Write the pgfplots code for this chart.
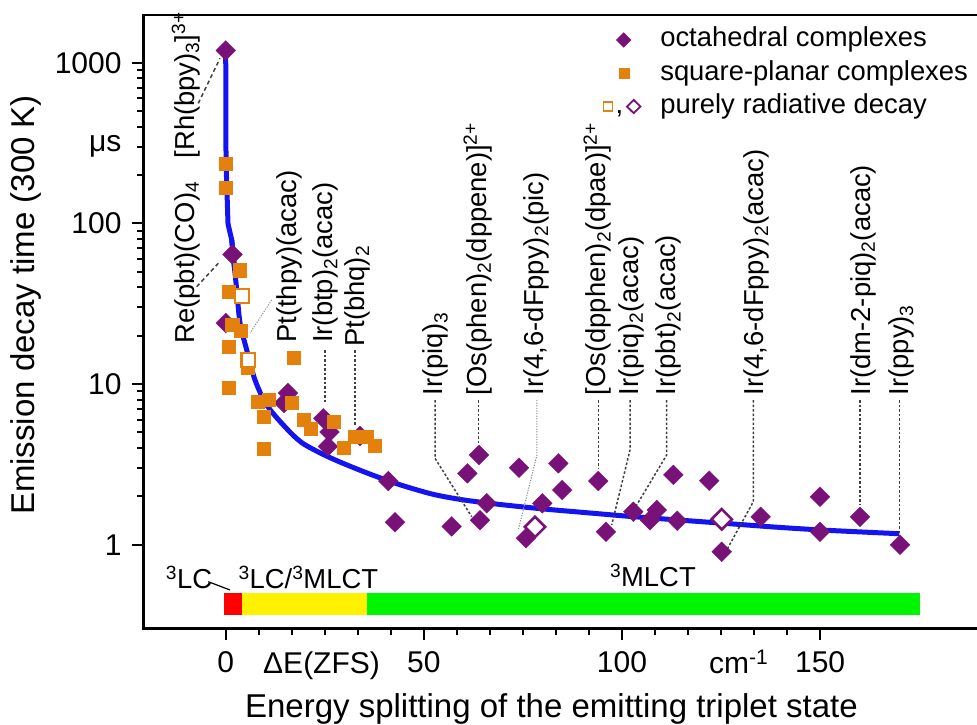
\documentclass[border=0pt]{standalone}
\usepackage{pgfplots}
\pgfplotsset{compat=1.18}
\usepackage{fontspec}
\setmainfont{Liberation Sans}
\definecolor{purp}{RGB}{120,18,120}
\definecolor{orng}{RGB}{228,128,12}
\definecolor{cblue}{RGB}{20,20,240}
\newcommand{\fT}{\fontsize{30}{30}\selectfont}
\newcommand{\fL}{\fontsize{33}{33}\selectfont}
\newcommand{\fC}{\fontsize{27.4}{27.4}\selectfont}
\tikzset{conn/.style={black!75, line width=1.5pt, dash pattern=on 2.5pt off 2pt},
         connthin/.style={black!45, line width=1pt, dash pattern=on 1.2pt off 1.4pt},
         connlong/.style={black!75, line width=1.5pt, dash pattern=on 4pt off 3pt},
         lab/.style={rotate=90, anchor=base west, inner sep=0pt, font=\fC}}
\begin{document}
\begin{tikzpicture}
\begin{axis}[
  at={(143.3pt,95.3pt)}, anchor=south west,
  scale only axis, width=843.3pt, height=613.7pt,
  xmin=-20.8, xmax=192,
  ymode=log, ymin=0.3, ymax=1981,
  axis line style={line width=2.5pt},
  tick align=outside, tick pos=left,
  major tick length=11pt, minor tick length=6pt,
  tick style={black, line width=2pt},
  xtick={0,50,100,150}, xticklabels={0,50,100,150},
  minor x tick num=5,
  ytick={1,10,100,1000}, yticklabels={1,10,100,1000},
  ticklabel style={font=\fT, inner sep=0pt},
  xticklabel shift=12pt, yticklabel shift=10.6pt,
  xlabel={Energy splitting of the emitting triplet state},
  ylabel={Emission decay time (300 K)},
  every axis x label/.style={at={(axis description cs:0.484,-0.1455)}, anchor=base, font=\fL},
  every axis y label/.style={at={(axis description cs:-0.139,0.5275)}, anchor=center, rotate=90, font=\fL},
  legend cell align=left,
  legend style={at={(axis description cs:0.5392,0.9809)}, anchor=north west,
    draw=none, fill=none, inner sep=0pt, outer sep=0pt,
    nodes={inner sep=0pt, text height=20pt, text depth=6.5pt},
    column sep=18.3pt, row sep=6.8pt, font=\fC},
]
% state bar
\addplot[fill=red, draw=none, forget plot] coordinates {(-0.5,0.3635) (4.2,0.3635) (4.2,0.5027) (-0.5,0.5027)} -- cycle;
\addplot[fill=yellow, draw=none, forget plot] coordinates {(4.2,0.3635) (35.6,0.3635) (35.6,0.5027) (4.2,0.5027)} -- cycle;
\addplot[fill={rgb,255:red,0;green,245;blue,0}, draw=none, forget plot] coordinates {(35.6,0.3635) (175.2,0.3635) (175.2,0.5027) (35.6,0.5027)} -- cycle;
% fit curve
\addplot[cblue, line width=5pt, line join=round, forget plot] coordinates {
(0,1190) (0.02,600) (0.08,237) (0.58,99) (1.51,79) (2.27,51)};
\addplot[cblue, line width=5pt, line join=round, smooth, tension=0.5, forget plot] coordinates {
(1.51,79) (2.27,51) (2.78,38.5) (3.61,24)
(5.3,16.3) (7.39,10.6) (10.35,7.4) (15,5.4) (19,4.35) (23.6,3.75) (28.7,3.28)
(36.4,2.75) (44,2.36) (52.3,2.06) (60,1.9) (69.2,1.78) (80,1.67)
(90,1.59) (102,1.50) (115,1.42) (129,1.34) (140,1.28) (151.5,1.23) (170,1.17)};
% octahedral complexes
\addplot[only marks, mark=square*, mark size=7pt, mark options={rotate=45, fill=purp, draw=purp, line width=0.3pt}, forget plot] coordinates {
(0,1190) (1.72,64.0) (0,24.0) (15.72,8.80) (14.7,7.62) (24.63,6.12) (26.2,5.03)
(25.8,4.09) (33.9,4.75) (41.03,2.49) (42.7,1.38) (57.03,1.30) (60.96,2.78)
(63.92,3.62) (65.86,1.81) (64.17,1.42) (74.0,3.01) (83.93,3.21) (84.94,2.19)
(79.89,1.81) (75.78,1.096) (94.02,2.49) (102.85,1.605) (95.96,1.205)
(108.76,1.644) (107.07,1.42) (113.95,1.41) (112.95,2.72) (122.03,2.50)
(125.16,0.905) (135.0,1.49) (149.96,1.99) (149.96,1.205) (160.05,1.49) (170.14,1.0)};
% square-planar complexes
\addplot[only marks, mark=square*, mark size=6.6pt, mark options={fill=orng, draw=orng, line width=0.3pt}, forget plot] coordinates {
(0,234) (0,166) (3.6,51.2) (0.66,37.4) (1.6,23.3) (3.86,21.4) (0.66,17.0)
(17.06,14.6) (5.63,12.6) (0.66,9.5) (8.02,7.76) (10.93,7.95) (16.65,7.62)
(9.66,6.23) (9.66,3.94) (19.58,5.97) (21.52,5.30) (27.33,5.83) (29.67,4.04)
(32.63,4.71) (35.58,4.71) (37.67,4.12)};
% purely radiative decay
\addplot[only marks, mark=square*, mark size=6.9pt, mark options={fill=white, draw=orng, line width=2.4pt}, forget plot] coordinates {
(4.11,35.3) (5.70,14.1)};
\addplot[only marks, mark=square*, mark size=7.2pt, mark options={rotate=45, fill=white, draw=purp, line width=2.6pt}, forget plot] coordinates {
(78.05,1.29) (125.16,1.44)};
% legend
\addlegendimage{legend image code/.code={
  \path[draw=none, fill=none] (0pt,-13.25pt) rectangle (44pt,13.25pt);
  \fill[purp] (25.7pt,7.3pt) -- (33pt,0pt) -- (25.7pt,-7.3pt) -- (18.4pt,0pt) -- cycle;}}
\addlegendentry{octahedral complexes}
\addlegendimage{legend image code/.code={
  \path[draw=none, fill=none] (0pt,-13.25pt) rectangle (44pt,13.25pt);
  \fill[orng] (20.7pt,-5pt) rectangle (30.7pt,5pt);}}
\addlegendentry{square-planar complexes}
\addlegendimage{legend image code/.code={
  \path[draw=none, fill=none] (0pt,-13.25pt) rectangle (44pt,13.25pt);
  \draw[orng, line width=1.6pt, fill=none] (5.5pt,-4.5pt) rectangle (14.5pt,4.5pt);
  \node[anchor=base, inner sep=0pt, font=\fC, draw=none, fill=none] at (21.5pt,-6.75pt) {,};
  \draw[purp, line width=1.8pt, fill=none] (35.7pt,6.6pt) -- (42.4pt,0pt) -- (35.7pt,-6.6pt) -- (29pt,0pt) -- cycle;}}
\addlegendentry{purely radiative decay}
\end{axis}
\begin{scope}[x=1pt, y=-1pt, shift={(0pt,724pt)}]
% extra tick texts
\node[anchor=base east, inner sep=0pt, font=\fT] at (121.7,151.7) {μs};
\node[anchor=base west, inner sep=0pt, font=\fT] at (263,673.3) {ΔE(ZFS)};
\node[anchor=base west, inner sep=0pt, font=\fT] at (709,673.3) {cm\textsuperscript{-1}};
% state labels
\node[anchor=base west, inner sep=0pt, font=\fC] at (165.7,588.3) {\textsuperscript{3}LC};
\node[anchor=base west, inner sep=0pt, font=\fC] at (238.3,588.3) {\textsuperscript{3}LC/\textsuperscript{3}MLCT};
\node[anchor=base west, inner sep=0pt, font=\fC] at (609.8,586.7) {\textsuperscript{3}MLCT};
\draw[black, line width=1.2pt] (208.3,581.7) -- (230,590);
% compound labels
\node[lab] at (194.2,158.5) {[Rh(bpy)\textsubscript{3}]\textsuperscript{3+}};
\node[lab] at (194.2,343.7) {Re(pbt)(CO)\textsubscript{4}};
\node[lab] at (296,343) {Pt(thpy)(acac)};
\node[lab] at (332.5,343) {Ir(btp)\textsubscript{2}(acac)};
\node[lab] at (364.2,347) {Pt(bhq)\textsubscript{2}};
\node[lab] at (442.8,395.5) {Ir(piq)\textsubscript{3}};
\node[lab] at (486,395.5) {[Os(phen)\textsubscript{2}(dppene)]\textsuperscript{2+}};
\node[lab] at (543.3,395.5) {Ir(4,6-dFppy)\textsubscript{2}(pic)};
\node[lab] at (605.8,395.5) {[Os(dpphen)\textsubscript{2}(dpae)]\textsuperscript{2+}};
\node[lab] at (638,395.5) {Ir(piq)\textsubscript{2}(acac)};
\node[lab] at (675.7,395.5) {Ir(pbt)\textsubscript{2}(acac)};
\node[lab] at (763.3,395.5) {Ir(4,6-dFppy)\textsubscript{2}(acac)};
\node[lab] at (870,395.5) {Ir(dm-2-piq)\textsubscript{2}(acac)};
\node[lab] at (908.3,395.5) {Ir(ppy)\textsubscript{3}};
% connectors
\draw[connlong] (198.3,103.3) -- (220,58.3);
\draw[connlong] (196.7,286.7) -- (218.3,263.3);
\draw[connthin] (271.7,300) -- (250,333);
\draw[conn] (325,350) -- (325,403.3);
\draw[conn] (355,350) -- (355,425);
\draw[conn] (435,400) -- (435,458.3) -- (471.7,516.7);
\draw[conn] (478.4,400) -- (478.4,443.3);
\draw[connthin] (536.9,400) -- (536.9,455) -- (518.3,530);
\draw[conn] (598.7,400) -- (598.7,468.3);
\draw[conn] (630,400) -- (630,450) -- (611.7,525);
\draw[conn] (666.7,400) -- (666.7,455) -- (636.7,505);
\draw[conn] (753.3,400) -- (753.3,501.7) -- (726.7,550);
\draw[conn] (860,400) -- (860,505);
\draw[conn] (899.5,400) -- (899.5,533);
\end{scope}
\pgfresetboundingbox
\path (0pt,0pt) rectangle (977pt,724pt);
\end{tikzpicture}
\end{document}
